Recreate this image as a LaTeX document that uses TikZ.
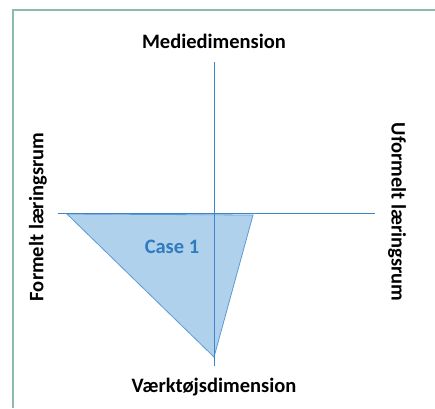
\documentclass[tikz,border=0pt]{standalone}
\usepackage{fontspec}
\setmainfont{Carlito}
\definecolor{frameC}{HTML}{8DBAAA}
\definecolor{axisC}{HTML}{3C86C8}
\definecolor{fillC}{HTML}{B0D1EC}
\definecolor{edgeC}{HTML}{5B9BD5}
\definecolor{caseC}{HTML}{2E7BC0}
\begin{document}
\begin{tikzpicture}[x=1pt,y=-1pt,
  lab/.style={font=\bfseries\fontsize{20.5}{22}\selectfont, text=black, inner sep=0pt},
  axis/.style={draw=axisC, line width=0.8pt}]
\useasboundingbox (0,0) rectangle (435,408);
\fill[white] (0,0) rectangle (435,408);
\draw[frameC, line width=1.2pt] (13,408) -- (13,10) -- (435,10);
% triangle
\coordinate (tl) at (67,214);
\coordinate (tr) at (253,215);
\coordinate (bt) at (214,357);
\filldraw[fill=fillC, draw=edgeC, line width=0.8pt] (tl) -- (tr) -- (bt) -- cycle;
% axes
\coordinate (vt) at (214,62);
\coordinate (vb) at (214,366);
\coordinate (hl) at (58,213);
\coordinate (hr) at (375,213);
\draw[axis] (vt) -- (vb);
\draw[axis] (hl) -- (hr);
% labels
\node[lab] (top) at (214,41) {Mediedimension};
\node[lab] (bot) at (214,387) {Værktøjsdimension};
\node[lab, rotate=90] (lft) at (38,217) {Formelt læringsrum};
\node[lab, rotate=-90] (rgt) at (397,212) {Uformelt læringsrum};
\node[lab, text=caseC] (case) at (172,247) {Case 1};
\end{tikzpicture}
\end{document}
